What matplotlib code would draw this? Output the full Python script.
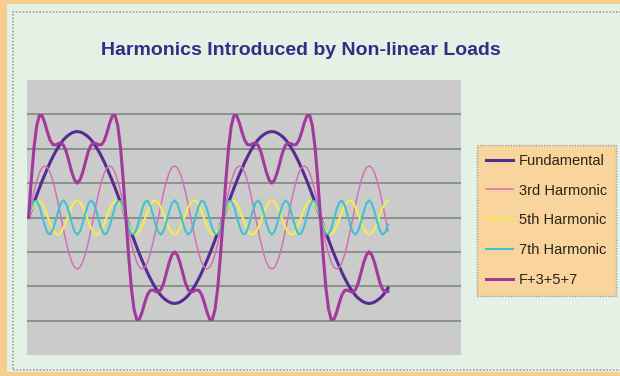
import matplotlib
matplotlib.use("Agg")
import matplotlib.pyplot as plt
from matplotlib.patches import Rectangle

# x categories: angle in degrees, one point every 5 degrees
angles = list(range(0, 670, 5))

# series values (one row per 360 degrees)
fundamental = [
    0.00, 0.22, 0.43, 0.65, 0.86, 1.06, 1.25, 1.43, 1.61, 1.77, 1.92, 2.05, 2.17, 2.27, 2.35, 2.41, 2.46, 2.49,
    2.50, 2.49, 2.46, 2.41, 2.35, 2.27, 2.17, 2.05, 1.92, 1.77, 1.61, 1.43, 1.25, 1.06, 0.86, 0.65, 0.43, 0.22,
    0.00, -0.22, -0.43, -0.65, -0.86, -1.06, -1.25, -1.43, -1.61, -1.77, -1.92, -2.05, -2.17, -2.27, -2.35, -2.41, -2.46, -2.49,
    -2.50, -2.49, -2.46, -2.41, -2.35, -2.27, -2.17, -2.05, -1.92, -1.77, -1.61, -1.43, -1.25, -1.06, -0.86, -0.65, -0.43, -0.22,
    0.00, 0.22, 0.43, 0.65, 0.86, 1.06, 1.25, 1.43, 1.61, 1.77, 1.92, 2.05, 2.17, 2.27, 2.35, 2.41, 2.46, 2.49,
    2.50, 2.49, 2.46, 2.41, 2.35, 2.27, 2.17, 2.05, 1.92, 1.77, 1.61, 1.43, 1.25, 1.06, 0.86, 0.65, 0.43, 0.22,
    0.00, -0.22, -0.43, -0.65, -0.86, -1.06, -1.25, -1.43, -1.61, -1.77, -1.92, -2.05, -2.17, -2.27, -2.35, -2.41, -2.46, -2.49,
    -2.50, -2.49, -2.46, -2.41, -2.35, -2.27, -2.17, -2.05,
]

third = [
    0.00, 0.39, 0.75, 1.06, 1.30, 1.45, 1.50, 1.45, 1.30, 1.06, 0.75, 0.39, 0.00, -0.39, -0.75, -1.06, -1.30, -1.45, -1.50, -1.45, -1.30, -1.06, -0.75, -0.39,
    0.00, 0.39, 0.75, 1.06, 1.30, 1.45, 1.50, 1.45, 1.30, 1.06, 0.75, 0.39, 0.00, -0.39, -0.75, -1.06, -1.30, -1.45, -1.50, -1.45, -1.30, -1.06, -0.75, -0.39,
    0.00, 0.39, 0.75, 1.06, 1.30, 1.45, 1.50, 1.45, 1.30, 1.06, 0.75, 0.39, 0.00, -0.39, -0.75, -1.06, -1.30, -1.45, -1.50, -1.45, -1.30, -1.06, -0.75, -0.39,
    0.00, 0.39, 0.75, 1.06, 1.30, 1.45, 1.50, 1.45, 1.30, 1.06, 0.75, 0.39, 0.00, -0.39, -0.75, -1.06, -1.30, -1.45, -1.50, -1.45, -1.30, -1.06, -0.75, -0.39,
    0.00, 0.39, 0.75, 1.06, 1.30, 1.45, 1.50, 1.45, 1.30, 1.06, 0.75, 0.39, 0.00, -0.39, -0.75, -1.06, -1.30, -1.45, -1.50, -1.45, -1.30, -1.06, -0.75, -0.39,
    0.00, 0.39, 0.75, 1.06, 1.30, 1.45, 1.50, 1.45, 1.30, 1.06, 0.75, 0.39, 0.00, -0.39,
]

fifth = [
    0.00, 0.21, 0.38, 0.48, 0.49, 0.41, 0.25, 0.04, -0.17, -0.35, -0.47, -0.50, -0.43, -0.29, -0.09, 0.13, 0.32, 0.45,
    0.50, 0.45, 0.32, 0.13, -0.09, -0.29, -0.43, -0.50, -0.47, -0.35, -0.17, 0.04, 0.25, 0.41, 0.49, 0.48, 0.38, 0.21,
    0.00, -0.21, -0.38, -0.48, -0.49, -0.41, -0.25, -0.04, 0.17, 0.35, 0.47, 0.50, 0.43, 0.29, 0.09, -0.13, -0.32, -0.45,
    -0.50, -0.45, -0.32, -0.13, 0.09, 0.29, 0.43, 0.50, 0.47, 0.35, 0.17, -0.04, -0.25, -0.41, -0.49, -0.48, -0.38, -0.21,
    0.00, 0.21, 0.38, 0.48, 0.49, 0.41, 0.25, 0.04, -0.17, -0.35, -0.47, -0.50, -0.43, -0.29, -0.09, 0.13, 0.32, 0.45,
    0.50, 0.45, 0.32, 0.13, -0.09, -0.29, -0.43, -0.50, -0.47, -0.35, -0.17, 0.04, 0.25, 0.41, 0.49, 0.48, 0.38, 0.21,
    0.00, -0.21, -0.38, -0.48, -0.49, -0.41, -0.25, -0.04, 0.17, 0.35, 0.47, 0.50, 0.43, 0.29, 0.09, -0.13, -0.32, -0.45,
    -0.50, -0.45, -0.32, -0.13, 0.09, 0.29, 0.43, 0.50,
]

seventh = [
    0.00, 0.29, 0.47, 0.48, 0.32, 0.04, -0.25, -0.45, -0.49, -0.35, -0.09, 0.21, 0.43, 0.50, 0.38, 0.13, -0.17, -0.41,
    -0.50, -0.41, -0.17, 0.13, 0.38, 0.50, 0.43, 0.21, -0.09, -0.35, -0.49, -0.45, -0.25, 0.04, 0.32, 0.48, 0.47, 0.29,
    0.00, -0.29, -0.47, -0.48, -0.32, -0.04, 0.25, 0.45, 0.49, 0.35, 0.09, -0.21, -0.43, -0.50, -0.38, -0.13, 0.17, 0.41,
    0.50, 0.41, 0.17, -0.13, -0.38, -0.50, -0.43, -0.21, 0.09, 0.35, 0.49, 0.45, 0.25, -0.04, -0.32, -0.48, -0.47, -0.29,
    0.00, 0.29, 0.47, 0.48, 0.32, 0.04, -0.25, -0.45, -0.49, -0.35, -0.09, 0.21, 0.43, 0.50, 0.38, 0.13, -0.17, -0.41,
    -0.50, -0.41, -0.17, 0.13, 0.38, 0.50, 0.43, 0.21, -0.09, -0.35, -0.49, -0.45, -0.25, 0.04, 0.32, 0.48, 0.47, 0.29,
    0.00, -0.29, -0.47, -0.48, -0.32, -0.04, 0.25, 0.45, 0.49, 0.35, 0.09, -0.21, -0.43, -0.50, -0.38, -0.13, 0.17, 0.41,
    0.50, 0.41, 0.17, -0.13, -0.38, -0.50, -0.43, -0.21,
]

combined = [
    0.00, 1.10, 2.04, 2.67, 2.97, 2.96, 2.75, 2.47, 2.24, 2.12, 2.11, 2.15, 2.17, 2.09, 1.90, 1.61, 1.31, 1.09,
    1.00, 1.09, 1.31, 1.61, 1.90, 2.09, 2.17, 2.15, 2.11, 2.12, 2.24, 2.47, 2.75, 2.96, 2.97, 2.67, 2.04, 1.10,
    0.00, -1.10, -2.04, -2.67, -2.97, -2.96, -2.75, -2.47, -2.24, -2.12, -2.11, -2.15, -2.17, -2.09, -1.90, -1.61, -1.31, -1.09,
    -1.00, -1.09, -1.31, -1.61, -1.90, -2.09, -2.17, -2.15, -2.11, -2.12, -2.24, -2.47, -2.75, -2.96, -2.97, -2.67, -2.04, -1.10,
    0.00, 1.10, 2.04, 2.67, 2.97, 2.96, 2.75, 2.47, 2.24, 2.12, 2.11, 2.15, 2.17, 2.09, 1.90, 1.61, 1.31, 1.09,
    1.00, 1.09, 1.31, 1.61, 1.90, 2.09, 2.17, 2.15, 2.11, 2.12, 2.24, 2.47, 2.75, 2.96, 2.97, 2.67, 2.04, 1.10,
    0.00, -1.10, -2.04, -2.67, -2.97, -2.96, -2.75, -2.47, -2.24, -2.12, -2.11, -2.15, -2.17, -2.09, -1.90, -1.61, -1.31, -1.09,
    -1.00, -1.09, -1.31, -1.61, -1.90, -2.09, -2.17, -2.15,
]

series_names = ["Fundamental", "3rd Harmonic", "5th Harmonic", "7th Harmonic", "F+3+5+7"]

plt.rcParams["font.family"] = ["Liberation Sans", "DejaVu Sans"]

fig = plt.figure(figsize=(6.2, 3.76), dpi=100, facecolor="#F8CE8F")
# mint chart area with dotted border
fig.patches.append(Rectangle((7 / 620, 4 / 376), 1.0, 368 / 376, transform=fig.transFigure,
                             facecolor="#E4F2E6", edgecolor="none", zorder=-2))
fig.patches.append(Rectangle((13 / 620, 6 / 376), 1.0, 358 / 376, transform=fig.transFigure,
                             facecolor="none", edgecolor="#A0A0A0", lw=1.2, ls=(0, (1, 1)), zorder=-1))

ax = fig.add_axes([27 / 620, 21 / 376, 434 / 620, 275 / 376])
ax.set_facecolor("#CBCBCB")

colors = ["#532D91", "#D470B5", "#F4EC50", "#40C4CC", "#A3389D"]
widths = [2.2, 1.1, 1.5, 1.5, 2.2]
for data, name, c, w in zip([fundamental, third, fifth, seventh, combined], series_names, colors, widths):
    ax.plot(angles, data, color=c, lw=w, label=name)

ax.set_xlim(-3, 800)
ax.set_ylim(-4, 4)
ax.set_yticks([-3, -2, -1, 0, 1, 2, 3])
ax.set_xticks([])
ax.yaxis.grid(True, color="#7E8A80", lw=1.2)
ax.set_axisbelow(True)
ax.tick_params(left=False, labelleft=False)
for sp in ax.spines.values():
    sp.set_visible(False)

fig.text(301 / 620, 1 - 55 / 376, "Harmonics Introduced by Non-linear Loads",
         ha="center", va="baseline", fontsize=14, fontweight="bold", color="#2E2F85")

leg = fig.legend(loc="upper left", bbox_to_anchor=(477 / 620, 1 - 145 / 376),
                 bbox_transform=fig.transFigure, fontsize=10.5, frameon=True, fancybox=False,
                 facecolor="#F9D49C", edgecolor="#A0A0A0", framealpha=1,
                 borderpad=0.6, labelspacing=1.08, handlelength=1.85, handletextpad=0.4,
                 borderaxespad=0)
leg.get_frame().set_linestyle((0, (1, 1)))
for t in leg.get_texts():
    t.set_color("#2A2418")

fig.savefig("out.png", dpi=100, facecolor=fig.get_facecolor())
